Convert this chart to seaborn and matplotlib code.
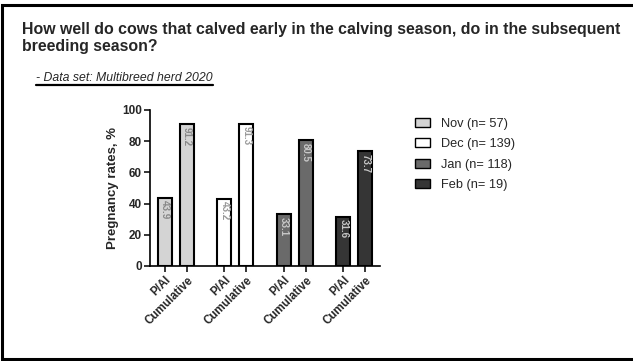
import matplotlib
matplotlib.use("Agg")
import matplotlib.pyplot as plt
import matplotlib.patches as mpatches
import matplotlib.lines as mlines
import numpy as np
import pandas as pd
import seaborn as sns

# Data: pregnancy rates by calving month
months = ["Nov", "Dec", "Jan", "Feb"]
herd_n = [57, 139, 118, 19]
pai_rate = [43.9, 43.2, 33.1, 31.6]
cumulative_rate = [91.2, 91.3, 80.5, 73.7]
bar_kinds = ["P/AI", "Cumulative"]
month_colors = ["#d4d4d4", "#ffffff", "#6a6a6a", "#353535"]
value_colors = ["#888888", "#999999", "#c8c8c8", "#c8c8c8"]

sns.set_theme(style="ticks")
plt.rcParams["font.family"] = ["Liberation Sans", "DejaVu Sans"]

group_step = 2.7
rows = []
for g, m in enumerate(months):
    for k, (kind, val) in enumerate(zip(bar_kinds, [pai_rate[g], cumulative_rate[g]])):
        rows.append({"month": m, "kind": kind, "pos": g * group_step + k, "rate": val})
df = pd.DataFrame(rows)

W, H = 633, 361
fig = plt.figure(figsize=(W / 100, H / 100), dpi=100)
fig.patch.set_facecolor("white")

ax_l, ax_r, ax_t, ax_b = 150, 380, 110, 266
ax = fig.add_axes([ax_l / W, 1 - ax_b / H, (ax_r - ax_l) / W, (ax_b - ax_t) / H])
ax.set_facecolor("white")

sns.barplot(
    data=df, x="pos", y="rate", hue="month", hue_order=months,
    palette=dict(zip(months, month_colors)), native_scale=True, dodge=False,
    width=0.64, edgecolor="black", linewidth=1.5, legend=False, ax=ax,
    errorbar=None,
)

ax.set_xlim(-0.68, 9.77)
ax.set_ylim(0, 100)
ax.set_yticks([0, 20, 40, 60, 80, 100])
ax.set_xticks(df["pos"].tolist())
ax.set_xticklabels(df["kind"].tolist(), rotation=45, ha="right",
                   rotation_mode="anchor", fontsize=8.3, fontweight="bold")
for lab in ax.get_yticklabels():
    lab.set_fontweight("bold")
    lab.set_fontsize(8.5)
ax.tick_params(axis="both", length=4, width=1.1, color="black", pad=2)
ax.set_xlabel("")
ax.set_ylabel("Pregnancy rates, %", fontsize=9.5, fontweight="bold", labelpad=2)
sns.despine(ax=ax)
for s in ["left", "bottom"]:
    ax.spines[s].set_linewidth(1.2)
    ax.spines[s].set_color("black")

# value labels inside the bars, reading downward
for _, r in df.iterrows():
    g = months.index(r["month"])
    ax.annotate(f"{r['rate']:.1f}", xy=(r["pos"], r["rate"]), xytext=(0, -2),
                textcoords="offset points", rotation=-90, ha="center", va="top",
                fontsize=7, fontweight="bold", color=value_colors[g])

# legend
handles = [mpatches.Patch(facecolor=c, edgecolor="black", linewidth=1.0,
                          label=f"{m} (n= {n})")
           for m, n, c in zip(months, herd_n, month_colors)]
fig.legend(handles=handles, loc="upper left", bbox_to_anchor=(410 / W, 1 - 113 / H),
           frameon=False, fontsize=9.2, handlelength=1.2, handleheight=0.7,
           handletextpad=0.8, labelspacing=0.65, borderaxespad=0)

# heading
fig.text(22 / W, 1 - 38 / H,
         "How well do cows that calved early in the calving season, do in the subsequent\nbreeding season?",
         fontsize=11.4, fontweight="bold", ha="left", va="center", linespacing=1.2)
sub = fig.text(36 / W, 1 - 78 / H, "- Data set: Multibreed herd 2020", fontsize=8.8,
               fontstyle="italic", ha="left", va="center")
fig.canvas.draw()
bb = sub.get_window_extent(renderer=fig.canvas.get_renderer())
uy = bb.y0 - 1.0
fig.add_artist(mlines.Line2D([bb.x0 / W, bb.x1 / W], [uy / H, uy / H],
                             transform=fig.transFigure, color="black", linewidth=1.6))

# frame around the slide: top, left and bottom edges
fx0, fy_top, fy_bot = 2 / W, 1 - 5 / H, 2 / H
fig.add_artist(mlines.Line2D([1.0, fx0, fx0, 1.0], [fy_top, fy_top, fy_bot, fy_bot],
                             transform=fig.transFigure, color="black",
                             linewidth=2.2, solid_joinstyle="miter"))

fig.savefig("out.png", dpi=100, facecolor="white")
